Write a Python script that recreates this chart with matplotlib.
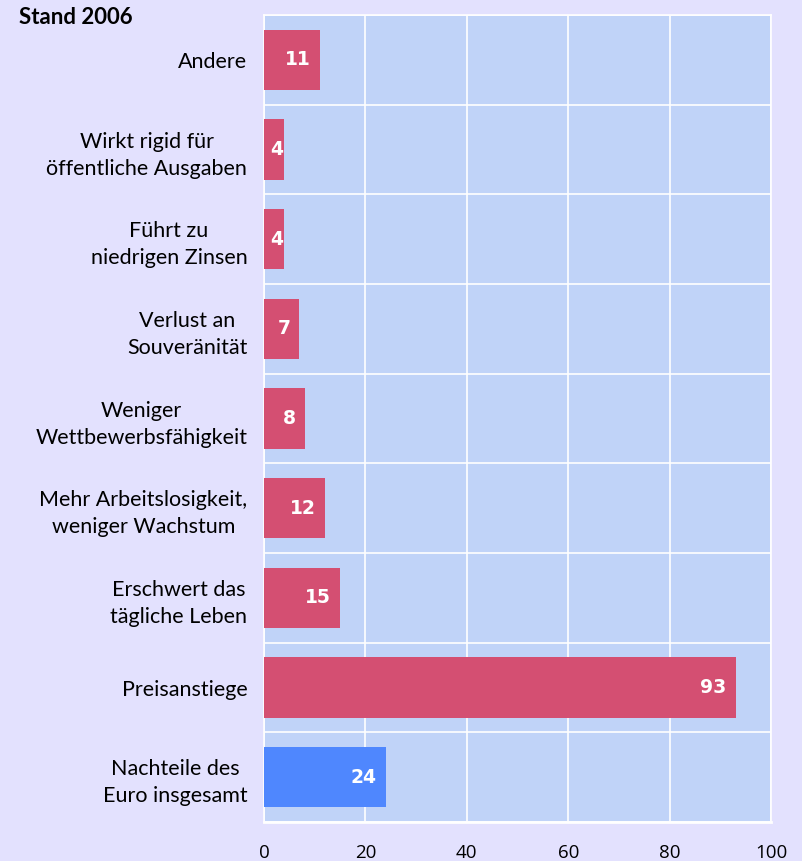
import numpy as np
import matplotlib.pyplot as plt

plt.rcParams['font.family'] = ['Lato', 'DejaVu Sans']

# Daten (von oben nach unten)
kategorien = ["Andere", "Wirkt rigid für\nöffentliche Ausgaben", "Führt zu\nniedrigen Zinsen",
              "Verlust an\nSouveränität", "Weniger\nWettbewerbsfähigkeit",
              "Mehr Arbeitslosigkeit,\nweniger Wachstum", "Erschwert das\ntägliche Leben",
              "Preisanstiege", "Nachteile des\nEuro insgesamt"]
werte = [11, 4, 4, 7, 8, 12, 15, 93, 24]
x_ticks = [0, 20, 40, 60, 80, 100]

bg = '#E3E1FE'
plot_bg = '#C0D3F8'
rot = '#D44F72'
blau = '#4F87FE'

fig = plt.figure(figsize=(8.02, 8.61), dpi=100, facecolor=bg)
ax = fig.add_axes([264/802, 1-822/861, (771-264)/802, (822-15)/861])
ax.set_facecolor(plot_bg)

y = np.arange(len(werte))
farben = [rot]*(len(werte)-1) + [blau]
ax.barh(y, werte, height=0.67, color=farben, zorder=3)

for yi, w in zip(y, werte):
    off = -9 if w > 5 else -1
    ax.annotate(str(w), (w, yi), xytext=(off, 0), textcoords='offset pixels',
                ha='right', va='center', color='white', fontsize=13.5, fontweight='bold',
                family=['DejaVu Sans'], zorder=4)

ax.set_xlim(0, 100)
ax.set_ylim(len(werte)-0.5, -0.5)
ax.set_xticks(x_ticks)
ax.set_xticklabels([str(t) for t in x_ticks], fontsize=13.5, family=['Open Sans', 'DejaVu Sans'])
ax.set_yticks(y)
ax.set_yticklabels(kategorien, fontsize=15.5, multialignment='center', linespacing=1.45)
ax.set_yticks(np.arange(len(werte)+1) - 0.5, minor=True)
ax.tick_params(axis='both', length=0, pad=12)
ax.tick_params(axis='y', which='minor', length=0)
ax.tick_params(axis='x', pad=16)
ax.grid(axis='x', which='major', color='white', lw=1.2, zorder=1)
ax.grid(axis='y', which='minor', color='white', lw=1.2, zorder=1)
ax.grid(axis='y', which='major', visible=False)
for s in ax.spines.values():
    s.set_color('white')
    s.set_linewidth(1.2)
ax.spines['bottom'].set_linewidth(2)

fig.text(19/802, 1-18/861, "Stand 2006", fontsize=16, fontweight='bold', ha='left', va='center')

fig.savefig('out.png', dpi=100, facecolor=bg)
